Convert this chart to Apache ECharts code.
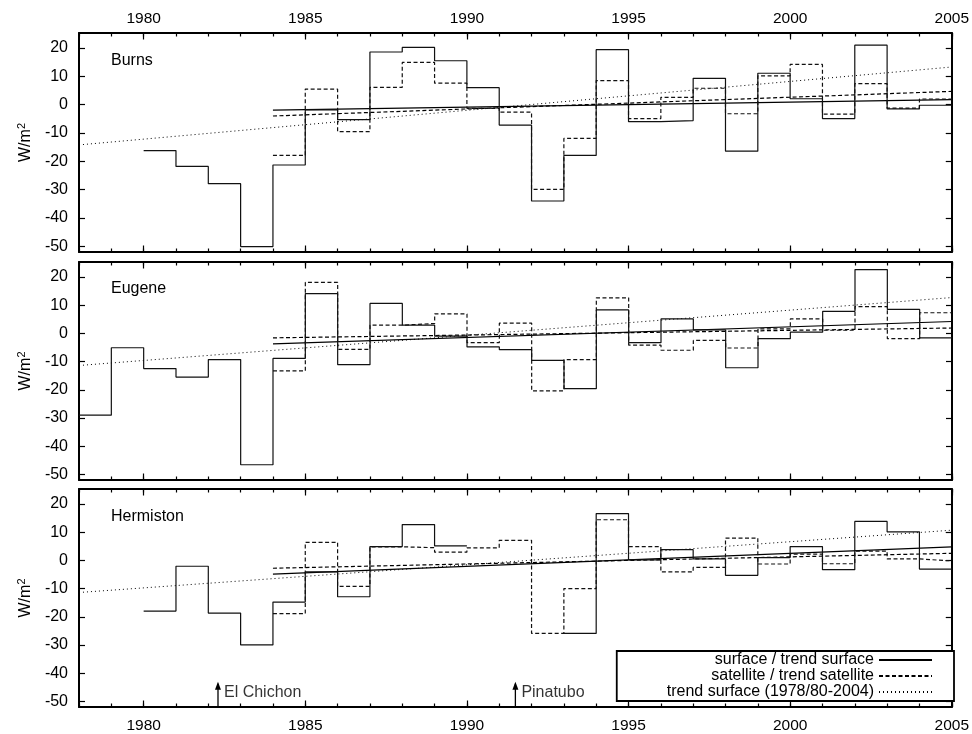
<!DOCTYPE html>
<html>
<head>
<meta charset="utf-8">
<script src="https://cdn.jsdelivr.net/npm/echarts@6/dist/echarts.min.js"></script>
<style>html,body{margin:0;padding:0;background:#fff}#c{width:972px;height:734px}</style>
</head>
<body>
<div id="c"></div>
<script>
// ---------- data ----------
const xMin = 1978, xMax = 2005;
const xTickYears = [1980, 1985, 1990, 1995, 2000, 2005];
const yMin = -52, yMax = 25.3;
const yTicks = [-50, -40, -30, -20, -10, 0, 10, 20];
const stations = ['Burns', 'Eugene', 'Hermiston'];

// surface (solid steps)
const burnsSurfaceStart = 1980;
const burnsSurface = [-16.2, -21.8, -27.9, -50.1, -21.3, -1.8, -5.3, 18.6, 20.2, 15.5, 6.0, -7.2, -34.0, -17.9, 19.4, -6.0, -5.6, 9.3, -16.4, 11.1, 2.1, -4.9, 21.0, -1.5, -0.2];
const eugeneSurfaceStart = 1978;
const eugeneSurface = [-29.0, -5.1, -12.5, -15.5, -9.3, -46.6, -8.9, 14.1, -11.1, 10.6, 2.9, -1.0, -4.8, -5.8, -9.6, -19.6, 8.3, -3.3, 5.1, 1.2, -12.2, -1.9, 0.4, 7.8, 22.6, 8.5, -1.6];
const hermistonSurfaceStart = 1980;
const hermistonSurface = [-18.0, -2.1, -18.7, -30.0, -14.8, -4.1, -12.9, 4.9, 12.7, 5.1, null, null, null, -25.9, 16.6, 0.2, 3.8, 0.5, -5.3, 1.0, 4.9, -3.3, 13.8, 10.1, -3.1];

// satellite (dashed steps), all from 1984
const satelliteStart = 1984;
const burnsSatellite = [-17.9, 5.5, -9.5, 6.1, 14.9, 7.6, -1.3, -2.6, -29.9, -11.9, 8.5, -4.9, 2.6, 5.8, -3.2, 10.2, 14.2, -3.3, 7.4, -1.2, 2.0];
const eugeneSatellite = [-13.3, 18.1, -5.7, 2.9, 3.5, 6.9, -3.3, 3.6, -20.4, -9.3, 12.6, -4.2, -6.0, -2.5, -5.2, 1.6, 5.1, 1.1, 9.5, -1.9, 7.3];
const hermistonSatellite = [-18.9, 6.4, -9.2, 4.8, 4.5, 2.9, 4.4, 7.1, -25.9, -10.0, 14.4, 4.9, -4.1, -2.5, 7.9, -1.3, 2.2, -1.2, 3.3, 0.5, -0.2];

// trend lines: [value at start, value at 2005]
const trendShortStart = 1984;
const trendLongStart = 1978;
const burnsTrendSurface = [-1.9, 1.8];
const burnsTrendSatellite = [-4.0, 4.7];
const burnsTrendLong = [-14.2, 13.3];
const eugeneTrendSurface = [-3.7, 4.2];
const eugeneTrendSatellite = [-1.6, 1.9];
const eugeneTrendLong = [-11.4, 12.7];
const hermistonTrendSurface = [-4.9, 4.8];
const hermistonTrendSatellite = [-2.8, 2.5];
const hermistonTrendLong = [-11.4, 10.7];

// volcanic events
const eventNames = ['El Chichon', 'Pinatubo'];
const eventYears = [1982.3, 1991.5];
const eventArrowTop = -43.8;
const eventLabelY = -46.8;

const legendNames = ['surface / trend surface', 'satellite / trend satellite', 'trend surface (1978/80-2004)'];

// ---------- build ----------
const FONT = "'Liberation Sans', Arial, Helvetica, sans-serif";
const panelData = [
  {surf: burnsSurface, surfStart: burnsSurfaceStart, sat: burnsSatellite, tS: burnsTrendSurface, tSat: burnsTrendSatellite, tL: burnsTrendLong},
  {surf: eugeneSurface, surfStart: eugeneSurfaceStart, sat: eugeneSatellite, tS: eugeneTrendSurface, tSat: eugeneTrendSatellite, tL: eugeneTrendLong},
  {surf: hermistonSurface, surfStart: hermistonSurfaceStart, sat: hermistonSatellite, tS: hermistonTrendSurface, tSat: hermistonTrendSatellite, tL: hermistonTrendLong}
];

function stepPoints(start, vals) {
  const pts = [];
  vals.forEach((v, i) => {
    if (v === null) { pts.push([start + i + 0.5, '-']); return; }
    pts.push([start + i, v]);
    pts.push([start + i + 1, v]);
  });
  return pts;
}

const grids = [
  {left: 79, right: 20, top: 33, height: 219},
  {left: 79, right: 20, top: 262, height: 218},
  {left: 79, right: 20, top: 489, height: 219}
];

const BLACK = '#000';
const xAxes = [], yAxes = [], series = [], titles = [];
const tickLabelStyle = {color: BLACK, fontFamily: FONT, fontSize: 15.5};

grids.forEach((g, gi) => {
  ['bottom', 'top'].forEach(pos => {
    const showLbl = (pos === 'top' && gi === 0) || (pos === 'bottom' && gi === 2);
    xAxes.push({
      type: 'value', gridIndex: gi, position: pos, min: xMin, max: xMax, interval: 1,
      axisLine: {show: true, onZero: false, lineStyle: {color: BLACK, width: 2}},
      axisTick: {show: true, inside: true, length: 3.5, lineStyle: {color: BLACK, width: 1.2}},
      axisLabel: {show: showLbl, customValues: xTickYears, margin: pos === 'top' ? 6 : 11, formatter: v => String(v), ...tickLabelStyle},
      splitLine: {show: false}
    });
    xAxes.push({
      type: 'value', gridIndex: gi, position: pos, min: xMin, max: xMax,
      axisLine: {show: false, onZero: false},
      axisTick: {show: true, inside: true, length: 6.5, customValues: xTickYears, lineStyle: {color: BLACK, width: 1.2}},
      axisLabel: {show: false},
      splitLine: {show: false}
    });
  });
  yAxes.push({
    type: 'value', gridIndex: gi, position: 'left', min: yMin, max: yMax,
    axisLine: {show: true, onZero: false, lineStyle: {color: BLACK, width: 2}},
    axisTick: {show: true, inside: true, length: 6, customValues: yTicks, lineStyle: {color: BLACK, width: 1.2}},
    axisLabel: {show: true, customValues: yTicks, margin: 11, color: BLACK, fontFamily: FONT, fontSize: 16},
    splitLine: {show: false},
    name: 'W/m{sup|2}', nameLocation: 'middle', nameRotate: 90, nameGap: 40,
    nameTextStyle: {color: BLACK, fontFamily: FONT, fontSize: 16, rich: {sup: {fontSize: 11, verticalAlign: 'top', padding: [0, 0, 8, 0], fontFamily: FONT, color: BLACK}}}
  });
  yAxes.push({
    type: 'value', gridIndex: gi, position: 'right', min: yMin, max: yMax,
    axisLine: {show: true, onZero: false, lineStyle: {color: BLACK, width: 2}},
    axisTick: {show: true, inside: true, length: 6, customValues: yTicks, lineStyle: {color: BLACK, width: 1.2}},
    axisLabel: {show: false},
    splitLine: {show: false}
  });

  const d = panelData[gi];
  const xi = gi * 4, yi = gi * 2;
  const base = {type: 'line', xAxisIndex: xi, yAxisIndex: yi, symbol: 'none', silent: true, animation: false, connectNulls: false};
  series.push({...base, name: stations[gi] + ' trend long', data: [[trendLongStart, d.tL[0]], [xMax, d.tL[1]]],
    lineStyle: {color: BLACK, width: 1, type: [1, 3]}});
  series.push({...base, name: stations[gi] + ' trend satellite', data: [[trendShortStart, d.tSat[0]], [xMax, d.tSat[1]]],
    lineStyle: {color: BLACK, width: 1.2, type: [4, 2.5]}});
  series.push({...base, name: stations[gi] + ' trend surface', data: [[trendShortStart, d.tS[0]], [xMax, d.tS[1]]],
    lineStyle: {color: BLACK, width: 1.2}});
  series.push({...base, name: stations[gi] + ' satellite', data: stepPoints(satelliteStart, d.sat),
    lineStyle: {color: '#111', width: 1.2, type: [4, 2.5]}});
  series.push({...base, name: stations[gi] + ' surface', data: stepPoints(d.surfStart, d.surf),
    lineStyle: {color: '#111', width: 1.2}});

  titles.push({text: stations[gi], left: 111, top: [53, 281, 509][gi], padding: 0,
    textStyle: {color: BLACK, fontFamily: FONT, fontSize: 16, fontWeight: 'normal'}});
});

// events: arrows and labels in the bottom panel
eventNames.forEach((n, i) => {
  series.push({
    type: 'line', name: n, xAxisIndex: 8, yAxisIndex: 4, silent: true, animation: false,
    showAllSymbol: true,
    lineStyle: {color: BLACK, width: 1.3},
    itemStyle: {color: BLACK},
    data: [
      {value: [eventYears[i], yMin], symbol: 'none'},
      {value: [eventYears[i], eventArrowTop], symbol: 'triangle', symbolSize: [6, 8], symbolOffset: [0, 2]}
    ]
  });
});
series.push({
  type: 'scatter', xAxisIndex: 8, yAxisIndex: 4, symbolSize: 0, silent: true, animation: false,
  data: eventNames.map((n, i) => ({name: n, value: [eventYears[i], eventLabelY]})),
  label: {show: true, position: 'right', distance: 6, formatter: p => p.name, color: BLACK, fontFamily: FONT, fontSize: 16}
});

// legend proxies
const legendStyles = ['solid', [4, 2.5], [1, 3]];
legendNames.forEach((n, i) => {
  series.push({type: 'line', name: n, xAxisIndex: 8, yAxisIndex: 4, symbol: 'none', data: [],
    lineStyle: {color: BLACK, width: 1.2, type: legendStyles[i]}, itemStyle: {color: BLACK}});
});

const option = {
  animation: false,
  backgroundColor: '#fff',
  title: titles,
  grid: grids,
  xAxis: xAxes,
  yAxis: yAxes,
  legend: {
    data: legendNames, orient: 'vertical', align: 'right', right: 18, bottom: 33,
    itemWidth: 53, itemHeight: 14, itemGap: 0,
    padding: [1, 21, 1, 50],
    borderColor: BLACK, borderWidth: 1.8, backgroundColor: '#fff',
    itemStyle: {opacity: 0, borderWidth: 0},
    textStyle: {color: BLACK, fontFamily: FONT, fontSize: 16, lineHeight: 14},
    selectedMode: false
  },
  series: series
};
const chart = echarts.init(document.getElementById('c'), null, {renderer: 'canvas'});
chart.setOption(option);
</script>
</body>
</html>
